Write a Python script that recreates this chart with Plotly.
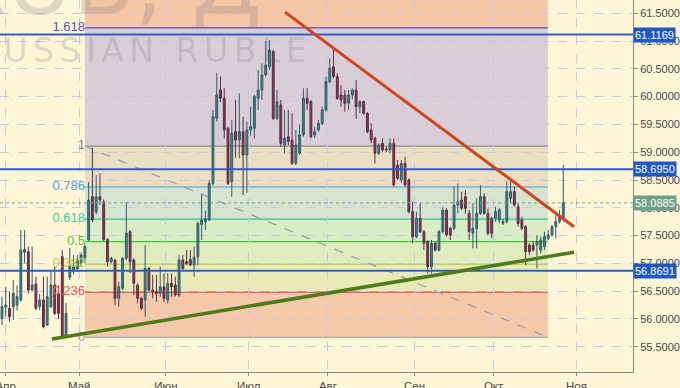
import pandas as pd
import plotly.graph_objects as go

# ---------------- data (USD/RUB daily candles) ----------------
OPEN = [56.01, 56.21, 56.19, 56.22, 56.25, 56.34, 57.20, 57.21, 56.52, 56.63,
        56.22, 56.34, 55.89, 56.22, 56.61, 56.46, 57.12, 55.68, 56.75, 56.85,
        56.90, 57.00, 57.10, 57.42, 58.20, 57.93, 58.20, 58.11, 57.43, 57.03,
        57.06, 56.37, 56.55, 57.09, 57.57, 57.06, 56.61, 56.37, 56.34, 56.91,
        56.52, 56.49, 56.46, 56.58, 56.34, 56.64, 56.61, 56.43, 57.06, 57.03,
        57.07, 56.97, 57.12, 57.70, 57.75, 57.78, 58.44, 59.61, 60.12, 59.97,
        59.43, 58.47, 59.37, 59.22, 59.37, 58.95, 59.40, 59.43, 59.97, 60.12,
        60.39, 60.54, 60.81, 59.61, 59.85, 59.13, 59.28, 59.22, 58.80, 58.98,
        59.31, 59.97, 59.91, 59.31, 59.40, 59.52, 59.76, 60.27, 60.54, 60.36,
        60.03, 60.03, 59.88, 60.03, 60.12, 59.82, 59.91, 59.70, 59.40, 59.25,
        58.98, 59.16, 59.06, 59.04, 59.16, 58.77, 58.50, 58.80, 58.50, 57.93,
        57.48, 57.81, 57.57, 57.39, 56.94, 57.36, 57.24, 57.57, 57.96, 57.63,
        57.63, 58.05, 58.14, 58.20, 57.90, 57.54, 57.63, 57.90, 58.20, 57.90,
        57.81, 57.81, 57.78, 57.72, 57.75, 58.17, 58.29, 58.02, 57.78, 57.66,
        57.33, 57.33, 57.33, 57.24, 57.30, 57.45, 57.51, 57.66, 57.75, 57.81]
HIGH = [56.40, 56.58, 56.49, 56.70, 56.60, 57.60, 57.60, 57.30, 57.30, 56.76,
        56.45, 56.76, 56.76, 56.88, 56.94, 56.60, 57.24, 56.29, 57.28, 57.15,
        57.15, 57.20, 57.35, 58.47, 59.08, 58.59, 58.62, 58.15, 57.45, 57.12,
        57.08, 56.67, 57.11, 58.11, 57.60, 57.09, 56.64, 56.40, 57.33, 56.94,
        56.79, 56.79, 56.94, 56.82, 56.82, 56.82, 56.76, 57.15, 57.15, 57.24,
        57.24, 57.30, 57.75, 58.26, 57.95, 58.50, 59.76, 60.42, 60.36, 60.15,
        59.46, 59.58, 59.94, 60.06, 59.64, 59.55, 59.82, 60.03, 60.48, 60.60,
        61.00, 61.02, 60.84, 60.12, 59.94, 59.76, 59.76, 59.70, 59.40, 59.50,
        60.15, 60.15, 59.94, 59.46, 59.58, 59.82, 60.36, 60.69, 60.84, 60.42,
        60.21, 60.12, 60.12, 60.15, 60.30, 59.94, 59.93, 59.72, 59.52, 59.28,
        59.16, 59.25, 59.10, 59.25, 59.25, 58.86, 58.86, 58.92, 58.53, 58.11,
        57.93, 58.08, 57.60, 57.42, 57.42, 57.39, 57.60, 58.02, 57.99, 57.66,
        58.38, 58.44, 58.29, 58.32, 57.96, 58.08, 58.17, 58.41, 58.26, 57.99,
        57.84, 58.02, 58.00, 57.80, 58.47, 58.50, 58.38, 58.08, 57.84, 57.69,
        57.36, 57.39, 57.51, 57.48, 57.57, 57.60, 57.69, 57.87, 57.96, 58.77]
LOW = [55.89, 56.04, 55.95, 55.98, 56.15, 56.31, 57.00, 56.46, 56.49, 56.16,
       56.16, 55.83, 55.87, 56.19, 56.07, 56.00, 55.66, 55.66, 56.70, 56.80,
       56.85, 56.95, 57.00, 57.40, 57.74, 57.88, 58.05, 57.40, 56.94, 57.00,
       56.25, 56.22, 56.52, 57.06, 56.82, 56.43, 56.28, 56.16, 56.04, 56.49,
       56.37, 56.31, 56.40, 56.31, 56.28, 56.40, 56.40, 56.40, 56.88, 56.97,
       56.95, 56.76, 56.97, 57.42, 57.60, 57.76, 58.40, 59.55, 59.90, 59.25,
       58.41, 58.20, 58.90, 58.89, 58.23, 58.27, 59.30, 59.25, 59.76, 59.94,
       60.36, 60.48, 59.58, 59.58, 59.10, 58.98, 59.13, 58.77, 58.77, 58.95,
       59.28, 59.76, 59.25, 59.25, 59.37, 59.49, 59.73, 60.24, 60.33, 59.94,
       59.82, 59.73, 59.76, 59.95, 59.60, 59.70, 59.67, 59.34, 59.16, 58.80,
       58.95, 59.01, 59.00, 58.98, 58.38, 58.50, 58.45, 58.38, 57.90, 57.36,
       57.45, 57.54, 57.24, 56.82, 56.82, 57.21, 57.21, 57.54, 57.48, 57.42,
       57.60, 57.90, 57.96, 57.90, 57.42, 57.27, 57.27, 57.87, 57.87, 57.51,
       57.45, 57.75, 57.72, 57.69, 57.72, 58.08, 58.02, 57.66, 57.60, 56.97,
       57.15, 57.21, 56.91, 57.18, 57.24, 57.42, 57.48, 57.45, 57.72, 57.75]
CLOSE = [56.22, 56.25, 56.04, 56.46, 56.40, 57.24, 57.25, 56.52, 56.61, 56.19,
         56.34, 55.86, 56.40, 56.61, 56.10, 56.10, 55.68, 56.10, 56.95, 56.95,
         57.05, 57.15, 57.30, 58.14, 57.78, 58.20, 58.14, 57.43, 57.03, 57.09,
         56.37, 56.58, 57.09, 57.54, 57.03, 56.64, 56.37, 56.19, 56.91, 56.52,
         56.49, 56.46, 56.58, 56.37, 56.64, 56.58, 56.43, 57.06, 56.91, 57.00,
         56.97, 57.11, 57.72, 57.78, 57.80, 58.44, 59.64, 60.03, 59.97, 59.40,
         58.44, 59.34, 59.22, 59.37, 58.95, 59.40, 59.46, 60.00, 60.12, 60.39,
         60.57, 60.84, 59.61, 59.91, 59.16, 59.25, 59.19, 58.80, 59.13, 59.31,
         59.97, 59.88, 59.28, 59.37, 59.52, 59.76, 60.27, 60.51, 60.36, 59.97,
         59.94, 59.88, 60.03, 60.12, 59.82, 59.91, 59.70, 59.37, 59.22, 58.98,
         59.13, 59.04, 59.04, 59.16, 58.41, 58.53, 58.80, 58.41, 57.93, 57.48,
         57.81, 57.57, 57.36, 56.94, 57.36, 57.24, 57.57, 57.96, 57.51, 57.51,
         58.05, 58.11, 57.99, 57.99, 57.57, 57.63, 57.90, 58.20, 57.90, 57.54,
         57.54, 57.93, 57.96, 57.75, 58.29, 58.29, 58.05, 57.72, 57.63, 57.21,
         57.21, 57.24, 57.39, 57.42, 57.48, 57.51, 57.66, 57.75, 57.84, 58.0885]

# trading days (weekdays), each candle centred at midday
DATES = pd.bdate_range("2017-03-31", periods=len(OPEN)) + pd.Timedelta(hours=12)

MONTH_TICKS = ["2017-04-03 12:00", "2017-05-01", "2017-06-01", "2017-07-03",
               "2017-08-01", "2017-09-01", "2017-10-02", "2017-11-01"]
MONTH_LABELS = ["Апр", "Май", "Июн", "Июл", "Авг", "Сен", "Окт", "Ноя"]

Y_TICKS = [55.5, 56.0, 56.5, 57.0, 57.5, 58.0, 58.5, 59.0, 59.5, 60.0, 60.5, 61.0, 61.5]

# Fibonacci retracement tool
FIB_LOW = 55.67
FIB_HIGH = 59.11
FIB_START = "2017-05-02 12:45"
FIB_END = "2017-10-20 09:36"
FIB_RATIOS = [0, 0.236, 0.382, 0.5, 0.618, 0.786, 1, 1.618]
FIB_LABELS = ["0", "0.236", "0.382", "0.5", "0.618", "0.786", "1", "1.618"]
FIB_LINE_COLORS = ["#9A9A9A", "#E03A3A", "#A8CC2A", "#33CC33", "#2FC29A", "#3A9EDD", "#8A8A8A", "#4A4AC4"]
FIB_TEXT_COLORS = ["#9A9A9A", "#EE5A5A", "#B2D23A", "#4CCB2E", "#44C99F", "#4FA7E0", "#8A8A8A", "#5555D0"]
FIB_BAND_COLORS = ["#F5C8AA", "#E9EAB7", "#E1ECBE", "#D8ECC5", "#D6E5CF", "#EADEC2", "#D9CED6", "#F5C6A6"]
FIB_TOP_RATIO = 2.618

# horizontal levels and current price
LEVELS = [61.1169, 58.6950, 56.8691]
LAST_PRICE = 58.0885

# trend lines (date, price)
SUPPORT = [("2017-04-19 18:30", 55.64), ("2017-10-31 08:24", 57.20)]
RESIST = [("2017-07-14 15:07", 61.52), ("2017-10-31 08:24", 57.66)]

X_RANGE = ["2017-03-30 23:17", "2017-11-22 00:00"]
Y_RANGE = [55.045, 61.739]

BG = "#FFF5D7"
GRID = "#C6C8E6"
SPACE = "\u2006"

# ---------------- figure ----------------
fig = go.Figure()

fib_prices = [FIB_LOW + r * (FIB_HIGH - FIB_LOW) for r in FIB_RATIOS]
top_price = FIB_LOW + FIB_TOP_RATIO * (FIB_HIGH - FIB_LOW)

# Fibonacci labels (drawn under candles)
fig.add_trace(go.Scatter(
    x=[FIB_START] * len(FIB_LABELS), y=fib_prices, mode="text", text=FIB_LABELS,
    textposition="middle left",
    textfont=dict(size=13, color=FIB_TEXT_COLORS, family="Liberation Sans, Arial"),
    hoverinfo="skip", cliponaxis=False))

fig.add_trace(go.Candlestick(
    x=DATES, open=OPEN, high=HIGH, low=LOW, close=CLOSE,
    increasing=dict(fillcolor="#3C8A77", line=dict(color="#36596A", width=1)),
    decreasing=dict(fillcolor="#992C47", line=dict(color="#553049", width=1)),
    whiskerwidth=0, hoverinfo="skip"))

shapes = []
bounds = fib_prices + [top_price]
for i, col in enumerate(FIB_BAND_COLORS):
    shapes.append(dict(type="rect", xref="x", yref="y", x0=FIB_START, x1=FIB_END,
                       y0=bounds[i], y1=bounds[i + 1], fillcolor=col, line_width=0, layer="below"))
for p, col in zip(fib_prices, FIB_LINE_COLORS):
    shapes.append(dict(type="line", xref="x", yref="y", x0=FIB_START, x1=FIB_END, y0=p, y1=p,
                       line=dict(color=col, width=1.2), layer="below"))
# diagonal fib trend line
shapes.append(dict(type="line", xref="x", yref="y", x0=FIB_START, x1=FIB_END,
                   y0=FIB_HIGH, y1=FIB_LOW, line=dict(color="#9A9A9A", width=1.2, dash="dash"), layer="below"))
# current price dotted line
shapes.append(dict(type="line", xref="paper", yref="y", x0=0, x1=1, y0=LAST_PRICE, y1=LAST_PRICE,
                   line=dict(color="#79A58C", width=1, dash="dot"), layer="above"))
# blue levels
for lv in LEVELS:
    shapes.append(dict(type="line", xref="paper", yref="y", x0=0, x1=1, y0=lv, y1=lv,
                       line=dict(color="#2D5FC8", width=2), layer="above"))
# trend lines
shapes.append(dict(type="line", xref="x", yref="y", x0=RESIST[0][0], y0=RESIST[0][1],
                   x1=RESIST[1][0], y1=RESIST[1][1], line=dict(color="#D2421F", width=3), layer="above"))
shapes.append(dict(type="line", xref="x", yref="y", x0=SUPPORT[0][0], y0=SUPPORT[0][1],
                   x1=SUPPORT[1][0], y1=SUPPORT[1][1], line=dict(color="#4C7A1C", width=3.5), layer="above"))

annotations = []
# watermarks
annotations.append(dict(xref="paper", yref="paper", x=-0.043, y=0.865, xanchor="left", yanchor="middle",
                        text=SPACE.join("RUSSIAN RUBLE"), showarrow=False,
                        font=dict(size=33, color="rgba(110,110,130,0.22)", family="DejaVu Sans")))
annotations.append(dict(xref="paper", yref="paper", x=-0.395, y=0.90, xanchor="left", yanchor="bottom",
                        text="USDRUB, Д", showarrow=False,
                        font=dict(size=90, color="rgba(110,110,110,0.22)", family="DejaVu Sans")))
# price labels on the right axis
for lv in LEVELS:
    annotations.append(dict(xref="paper", yref="y", x=1, y=lv, xanchor="left", yanchor="middle",
                            text=f"{lv:.4f}", showarrow=False, bgcolor="#1E58C8", borderpad=1,
                            font=dict(size=11, color="white", family="Liberation Sans, Arial")))
annotations.append(dict(xref="paper", yref="y", x=1, y=LAST_PRICE, xanchor="left", yanchor="middle",
                        text=f"{LAST_PRICE:.4f}", showarrow=False, bgcolor="#6E9F87", borderpad=1,
                        font=dict(size=11, color="white", family="Liberation Sans, Arial")))

fig.update_layout(
    width=680, height=388,
    margin=dict(l=0, r=47, t=0, b=16),
    paper_bgcolor=BG, plot_bgcolor=BG,
    showlegend=False,
    font=dict(family="Liberation Sans, Arial", size=11, color="#454545"),
    shapes=shapes, annotations=annotations,
    xaxis=dict(type="date", range=X_RANGE, rangebreaks=[dict(bounds=["sat", "mon"])],
               rangeslider=dict(visible=False), automargin=False,
               tickvals=MONTH_TICKS, ticktext=MONTH_LABELS, ticklabeloverflow="allow",
               ticks="outside", ticklen=3, tickcolor="#8C8C8C",
               showgrid=True, gridcolor=GRID, griddash="dash", gridwidth=1,
               showline=True, linecolor="#8C8C8C", linewidth=1, zeroline=False,
               tickfont=dict(size=11.5, color="#4A4A4A")),
    yaxis=dict(side="right", range=Y_RANGE, tickvals=Y_TICKS, tickformat=".4f", automargin=False,
               ticks="outside", ticklen=4, tickcolor="#8C8C8C",
               showgrid=True, gridcolor=GRID, griddash="dash", gridwidth=1,
               showline=True, linecolor="#8C8C8C", linewidth=1, zeroline=False,
               tickfont=dict(size=11, color="#4A4A4A")),
)

fig.write_html("out.html", config={"displayModeBar": False, "staticPlot": True},
               post_script="document.body.style.margin='0';document.body.style.overflow='hidden';")
